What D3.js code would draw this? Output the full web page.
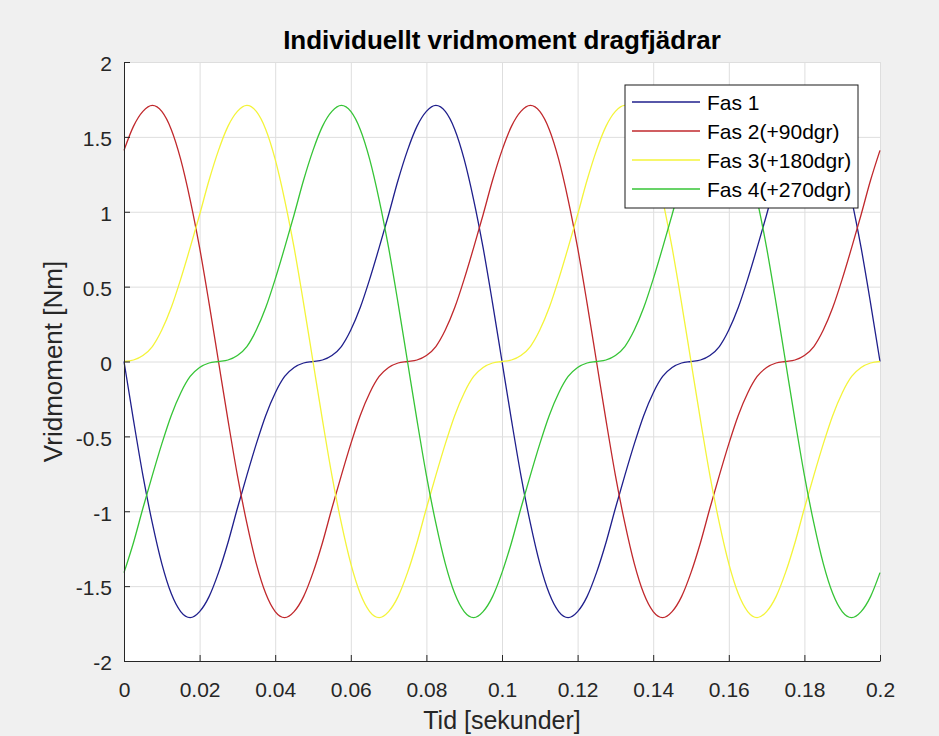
<!DOCTYPE html>
<html>
<head>
<meta charset="utf-8">
<script src="https://cdn.jsdelivr.net/npm/d3@7"></script>
<style>
  body { margin: 0; background: #f0f0f0; }
  text { font-family: "Liberation Sans", Arial, sans-serif; }
</style>
</head>
<body>
<div id="vis"><svg></svg></div>
<script>
// time axis (seconds)
var tid = [0, 0.0025, 0.005, 0.0075, 0.01, 0.0125, 0.015, 0.0175, 0.02, 0.0225,
  0.025, 0.0275, 0.03, 0.0325, 0.035, 0.0375, 0.04, 0.0425, 0.045, 0.0475,
  0.05, 0.0525, 0.055, 0.0575, 0.06, 0.0625, 0.065, 0.0675, 0.07, 0.0725,
  0.075, 0.0775, 0.08, 0.0825, 0.085, 0.0875, 0.09, 0.0925, 0.095, 0.0975,
  0.1, 0.1025, 0.105, 0.1075, 0.11, 0.1125, 0.115, 0.1175, 0.12, 0.1225,
  0.125, 0.1275, 0.13, 0.1325, 0.135, 0.1375, 0.14, 0.1425, 0.145, 0.1475,
  0.15, 0.1525, 0.155, 0.1575, 0.16, 0.1625, 0.165, 0.1675, 0.17, 0.1725,
  0.175, 0.1775, 0.18, 0.1825, 0.185, 0.1875, 0.19, 0.1925, 0.195, 0.1975, 0.2];

var fas1 = [0, -0.39, -0.76, -1.08, -1.35, -1.55, -1.67, -1.71, -1.67, -1.57,
  -1.41, -1.21, -0.98, -0.76, -0.55, -0.36, -0.21, -0.10, -0.04, -0.01,
  0, 0.01, 0.04, 0.10, 0.21, 0.36, 0.55, 0.76, 0.98, 1.21,
  1.41, 1.57, 1.67, 1.71, 1.67, 1.55, 1.35, 1.08, 0.76, 0.39,
  0, -0.39, -0.76, -1.08, -1.35, -1.55, -1.67, -1.71, -1.67, -1.57,
  -1.41, -1.21, -0.98, -0.76, -0.55, -0.36, -0.21, -0.10, -0.04, -0.01,
  0, 0.01, 0.04, 0.10, 0.21, 0.36, 0.55, 0.76, 0.98, 1.21,
  1.41, 1.57, 1.67, 1.71, 1.67, 1.55, 1.35, 1.08, 0.76, 0.39, 0];

var fas2 = [1.41, 1.57, 1.67, 1.71, 1.67, 1.55, 1.35, 1.08, 0.76, 0.39,
  0, -0.39, -0.76, -1.08, -1.35, -1.55, -1.67, -1.71, -1.67, -1.57,
  -1.41, -1.21, -0.98, -0.76, -0.55, -0.36, -0.21, -0.10, -0.04, -0.01,
  0, 0.01, 0.04, 0.10, 0.21, 0.36, 0.55, 0.76, 0.98, 1.21,
  1.41, 1.57, 1.67, 1.71, 1.67, 1.55, 1.35, 1.08, 0.76, 0.39,
  0, -0.39, -0.76, -1.08, -1.35, -1.55, -1.67, -1.71, -1.67, -1.57,
  -1.41, -1.21, -0.98, -0.76, -0.55, -0.36, -0.21, -0.10, -0.04, -0.01,
  0, 0.01, 0.04, 0.10, 0.21, 0.36, 0.55, 0.76, 0.98, 1.21, 1.41];

var fas3 = [0, 0.01, 0.04, 0.10, 0.21, 0.36, 0.55, 0.76, 0.98, 1.21,
  1.41, 1.57, 1.67, 1.71, 1.67, 1.55, 1.35, 1.08, 0.76, 0.39,
  0, -0.39, -0.76, -1.08, -1.35, -1.55, -1.67, -1.71, -1.67, -1.57,
  -1.41, -1.21, -0.98, -0.76, -0.55, -0.36, -0.21, -0.10, -0.04, -0.01,
  0, 0.01, 0.04, 0.10, 0.21, 0.36, 0.55, 0.76, 0.98, 1.21,
  1.41, 1.57, 1.67, 1.71, 1.67, 1.55, 1.35, 1.08, 0.76, 0.39,
  0, -0.39, -0.76, -1.08, -1.35, -1.55, -1.67, -1.71, -1.67, -1.57,
  -1.41, -1.21, -0.98, -0.76, -0.55, -0.36, -0.21, -0.10, -0.04, -0.01, 0];

var fas4 = [-1.41, -1.21, -0.98, -0.76, -0.55, -0.36, -0.21, -0.10, -0.04, -0.01,
  0, 0.01, 0.04, 0.10, 0.21, 0.36, 0.55, 0.76, 0.98, 1.21,
  1.41, 1.57, 1.67, 1.71, 1.67, 1.55, 1.35, 1.08, 0.76, 0.39,
  0, -0.39, -0.76, -1.08, -1.35, -1.55, -1.67, -1.71, -1.67, -1.57,
  -1.41, -1.21, -0.98, -0.76, -0.55, -0.36, -0.21, -0.10, -0.04, -0.01,
  0, 0.01, 0.04, 0.10, 0.21, 0.36, 0.55, 0.76, 0.98, 1.21,
  1.41, 1.57, 1.67, 1.71, 1.67, 1.55, 1.35, 1.08, 0.76, 0.39,
  0, -0.39, -0.76, -1.08, -1.35, -1.55, -1.67, -1.71, -1.67, -1.57, -1.41];

var seriesNames = ["Fas 1", "Fas 2(+90dgr)", "Fas 3(+180dgr)", "Fas 4(+270dgr)"];
var seriesColors = ["#1f1f8c", "#c0282c", "#f4f43a", "#36c436"];

var xTicks = [0, 0.02, 0.04, 0.06, 0.08, 0.1, 0.12, 0.14, 0.16, 0.18, 0.2];
var xTickLabels = ["0", "0.02", "0.04", "0.06", "0.08", "0.1", "0.12", "0.14", "0.16", "0.18", "0.2"];
var yTicks = [-2, -1.5, -1, -0.5, 0, 0.5, 1, 1.5, 2];
var yTickLabels = ["-2", "-1.5", "-1", "-0.5", "0", "0.5", "1", "1.5", "2"];

var margin = {top: 62, right: 59, bottom: 75, left: 124},
    width = 939 - margin.left - margin.right,
    height = 736 - margin.top - margin.bottom;

var svg = d3.select("#vis").select("svg")
    .attr("width", 939)
    .attr("height", 736)
    .style("display", "block");

svg.append("rect")
  .attr("width", 939).attr("height", 736)
  .attr("fill", "#f0f0f0");

var g = svg.append("g")
    .attr("transform", "translate(" + margin.left + "," + margin.top + ")");

g.append("rect")
  .attr("width", width).attr("height", height)
  .attr("fill", "white");

var x = d3.scaleLinear().domain([0, 0.2]).range([0, width]);
var y = d3.scaleLinear().domain([-2, 2]).range([height, 0]);

// grid
g.append("g")
  .attr("class", "grid")
  .attr("transform", "translate(0," + height + ")")
  .call(d3.axisBottom(x).tickValues(xTicks).tickSize(-height).tickFormat(""))
  .call(function(s) { s.select(".domain").remove(); });
g.append("g")
  .attr("class", "grid")
  .call(d3.axisLeft(y).tickValues(yTicks).tickSize(-width).tickFormat(""))
  .call(function(s) { s.select(".domain").remove(); });
g.selectAll(".grid line").attr("stroke", "#dedede").attr("stroke-width", 1);

// lines
var dataReady = seriesNames.map(function(name, i) {
  var vals = [fas1, fas2, fas3, fas4][i];
  return {name: name, color: seriesColors[i],
    values: tid.map(function(t, j) { return {time: t, value: vals[j]}; })};
});

var line = d3.line()
  .x(function(d) { return x(d.time); })
  .y(function(d) { return y(d.value); })
  .curve(d3.curveMonotoneX);

g.selectAll("myLines")
  .data(dataReady)
  .enter()
  .append("path")
    .attr("d", function(d) { return line(d.values); })
    .attr("stroke", function(d) { return d.color; })
    .style("stroke-width", 1.3)
    .style("fill", "none");

// axes
var xAxis = g.append("g")
  .attr("transform", "translate(0," + height + ")")
  .call(d3.axisBottom(x).tickValues(xTicks)
    .tickFormat(function(d, i) { return xTickLabels[i]; })
    .tickSizeInner(-6).tickSizeOuter(0).tickPadding(21));
var yAxis = g.append("g")
  .call(d3.axisLeft(y).tickValues(yTicks)
    .tickFormat(function(d, i) { return yTickLabels[i]; })
    .tickSizeInner(-6).tickSizeOuter(0).tickPadding(12));

[xAxis, yAxis].forEach(function(a) {
  a.select(".domain").attr("stroke", "#262626");
  a.selectAll(".tick line").attr("stroke", "#262626");
  a.selectAll(".tick text")
    .attr("fill", "#262626")
    .style("font-size", "21px")
    .style("font-family", "'Liberation Sans', Arial, sans-serif");
});
yAxis.selectAll(".tick text").attr("dy", "0.42em");

// title and labels
svg.append("text")
  .attr("x", margin.left + width / 2)
  .attr("y", 49)
  .attr("text-anchor", "middle")
  .style("font-size", "26px")
  .style("font-weight", "bold")
  .attr("fill", "#000")
  .text("Individuellt vridmoment dragfjädrar");

svg.append("text")
  .attr("x", margin.left + width / 2)
  .attr("y", 729)
  .attr("text-anchor", "middle")
  .style("font-size", "25px")
  .attr("fill", "#262626")
  .text("Tid [sekunder]");

svg.append("text")
  .attr("transform", "translate(62," + (margin.top + height / 2) + ") rotate(-90)")
  .attr("text-anchor", "middle")
  .style("font-size", "26px")
  .attr("fill", "#262626")
  .text("Vridmoment [Nm]");

// legend
var legend = svg.append("g").attr("transform", "translate(625,85)");
legend.append("rect")
  .attr("width", 233).attr("height", 123)
  .attr("fill", "white")
  .attr("stroke", "#1a1a1a")
  .attr("stroke-width", 1);

var rows = legend.selectAll("myLabels")
  .data(dataReady)
  .enter()
  .append("g")
    .attr("transform", function(d, i) { return "translate(0," + (17 + i * 29) + ")"; });
rows.append("line")
  .attr("x1", 7).attr("x2", 75)
  .attr("stroke", function(d) { return d.color; })
  .attr("stroke-width", 1.3);
rows.append("text")
  .attr("x", 82)
  .attr("dy", "0.36em")
  .style("font-size", "21px")
  .attr("fill", "#000")
  .text(function(d) { return d.name; });
</script>
</body>
</html>
